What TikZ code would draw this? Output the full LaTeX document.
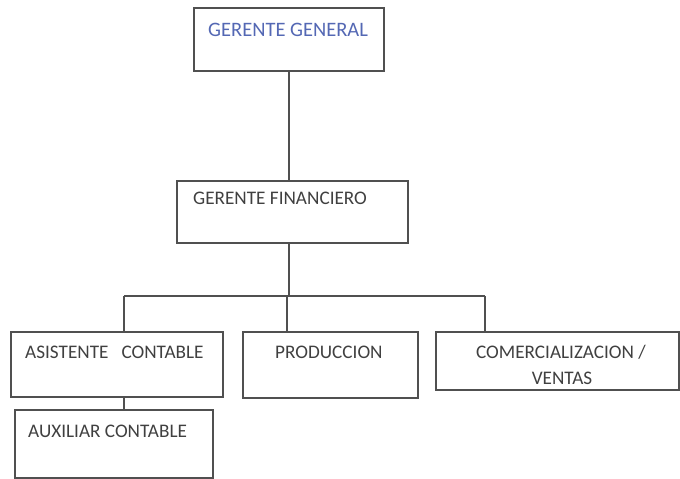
\documentclass[tikz,border=0pt]{standalone}
\usepackage{fontspec}
\setmainfont{Carlito}
\definecolor{boxline}{HTML}{505050}
\definecolor{txt}{HTML}{404040}
\definecolor{bluetxt}{HTML}{5468B4}
\begin{document}
\begin{tikzpicture}[x=1pt,y=-1pt,
  orgbox/.style={draw=boxline,line width=1.2pt,fill=white},
  lbl/.style={anchor=west,inner sep=0pt,text=txt,font=\fontsize{19.2}{22}\selectfont},
  conn/.style={draw=boxline,line width=1.2pt}]
\useasboundingbox (0,0) rectangle (680,479);
% boxes
\draw[orgbox] (194,8) rectangle (384,71);
\coordinate (ggb) at (289,71);
\node[lbl,text=bluetxt,font=\fontsize{20.5}{24}\selectfont] (gg) at (208,30) {GERENTE GENERAL};
\draw[orgbox] (177,181) rectangle (408,243);
\coordinate (gft) at (289,181);
\coordinate (gfb) at (289,243);
\node[lbl] (gf) at (193,198) {GERENTE FINANCIERO};
\draw[orgbox] (11,332) rectangle (223,397);
\node[lbl] (as) at (25,352) {ASISTENTE\ \ \ CONTABLE};
\draw[orgbox] (243,332) rectangle (418,398);
\node[lbl] (pr) at (275,352) {PRODUCCION};
\draw[orgbox] (436,332) rectangle (679,390);
\node[lbl,anchor=center] (co1) at (561,352) {COMERCIALIZACION /};
\node[lbl,anchor=center] (co2) at (562,378) {VENTAS};
\draw[orgbox] (15,410) rectangle (213,478);
\node[lbl] (au) at (28,431) {AUXILIAR CONTABLE};
% connectors
\coordinate (busL) at (124,296);
\coordinate (busM) at (289,296);
\coordinate (busR) at (485,296);
\coordinate (asT) at (124,332);
\coordinate (prT) at (287,332);
\coordinate (coT) at (485,332);
\coordinate (asB) at (124,397);
\coordinate (auT) at (124,410);
\draw[conn] (ggb) -- (gft);
\draw[conn] (gfb) -- (busM);
\draw[conn] (busL) -- (busR);
\draw[conn] (busL) -- (asT);
\draw[conn] (287,296) -- (prT);
\draw[conn] (busR) -- (coT);
\draw[conn] (asB) -- (auT);
\end{tikzpicture}
\end{document}
